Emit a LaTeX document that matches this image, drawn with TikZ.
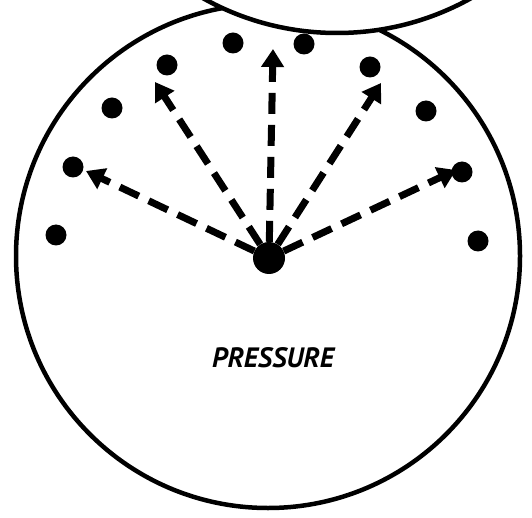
\documentclass[tikz,border=0pt]{standalone}
\usepackage{fontspec}
\setsansfont{PT Sans}
\usetikzlibrary{arrows.meta}

\begin{document}
\begin{tikzpicture}[x=1pt, y=-1pt,
    wall/.style={circle, draw=black, line width=4.5pt, inner sep=0pt},
    dot/.style={circle, fill=black, minimum size=21pt, inner sep=0pt},
    push/.style={line width=7pt, dash pattern=on 21pt off 11pt,
      -{Triangle[length=18pt, width=22pt]}}]
    \useasboundingbox (0,0) rectangle (532,518);
    \clip (0,0) rectangle (532,518);
    \node[wall, minimum size=504pt] (vessel) at (268,256) {};
    \node[wall, fill=white, minimum size=550pt] (piston) at (337,-242) {};
    \node[circle, fill=black, minimum size=32pt, inner sep=0pt] (src) at (269,258) {};
    \node[dot] (d1) at (233,43) {};
    \node[dot] (d2) at (304,44) {};
    \node[dot] (d3) at (167,65) {};
    \node[dot] (d4) at (370,67) {};
    \node[dot] (d5) at (112,108) {};
    \node[dot] (d6) at (426,111) {};
    \node[dot] (d7) at (73,167) {};
    \node[dot] (d8) at (462,172) {};
    \node[dot] (d9) at (56,235) {};
    \node[dot] (d10) at (478,241) {};
    \coordinate (t1) at (86,171);
    \coordinate (t2) at (155,82);
    \coordinate (t3) at (273,49);
    \coordinate (t4) at (381,83);
    \coordinate (t5) at (456,170);
    \draw[push] (src) -- (t1);
    \draw[push] (src) -- (t2);
    \draw[push] (src) -- (t3);
    \draw[push] (src) -- (t4);
    \draw[push] (src) -- (t5);
    \node[font=\sffamily\bfseries\itshape\fontsize{28}{30}\selectfont] (label) at (273,358) {PRESSURE};
\end{tikzpicture}
\end{document}
